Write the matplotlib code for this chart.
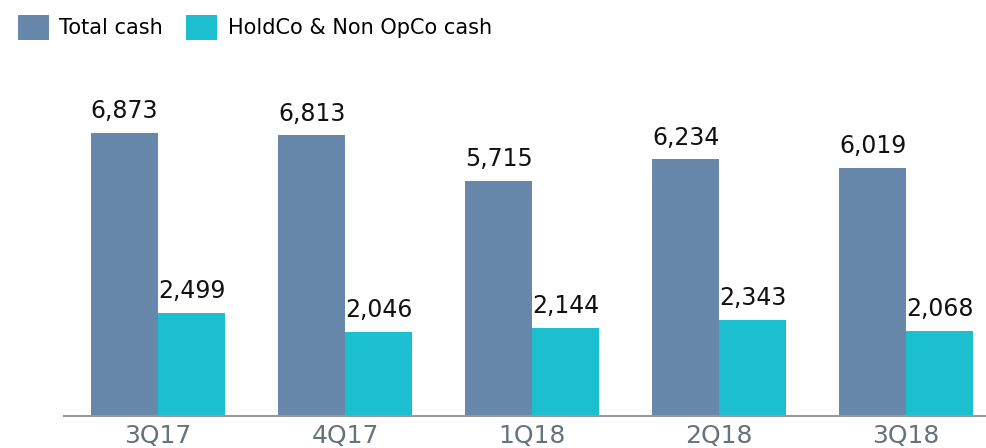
import numpy as np
import matplotlib.pyplot as plt

quarters = ["3Q17", "4Q17", "1Q18", "2Q18", "3Q18"]
total_cash = [6873, 6813, 5715, 6234, 6019]
holdco_cash = [2499, 2046, 2144, 2343, 2068]

c_total = "#6788ab"
c_holdco = "#1bbfcf"

fig = plt.figure(figsize=(9.87, 4.48), dpi=100)
ax = fig.add_axes([64 / 987, 32 / 448, 1 - 64 / 987, 356 / 448])

x = np.arange(len(quarters))
w = 0.358
b1 = ax.bar(x - w / 2, total_cash, w, color=c_total, label="Total cash")
b2 = ax.bar(x + w / 2, holdco_cash, w, color=c_holdco, label="HoldCo & Non OpCo cash")

for bars in (b1, b2):
    for r in bars:
        ax.annotate(f"{int(r.get_height()):,}", (r.get_x() + r.get_width() / 2, r.get_height()),
                    xytext=(0, 7), textcoords="offset points", ha="center", va="bottom",
                    fontsize=17, color="#111111")

ax.set_xlim(-0.503, 4.433)
ax.set_ylim(0, 8645)
ax.set_xticks(x)
ax.set_xticklabels(quarters, fontsize=18, color="#66737c")
ax.tick_params(axis="x", length=0, pad=6)
ax.set_yticks([])
for s in ["top", "right", "left"]:
    ax.spines[s].set_visible(False)
ax.spines["bottom"].set_color("#999999")
ax.spines["bottom"].set_linewidth(1.5)

fig.legend(loc="upper left", bbox_to_anchor=(0.003, 1.0), ncol=2, frameon=False,
           fontsize=15, handlelength=1.5, handleheight=1.5, handletextpad=0.5,
           columnspacing=1.1, borderaxespad=0.3)

fig.savefig("out.png", dpi=100)
